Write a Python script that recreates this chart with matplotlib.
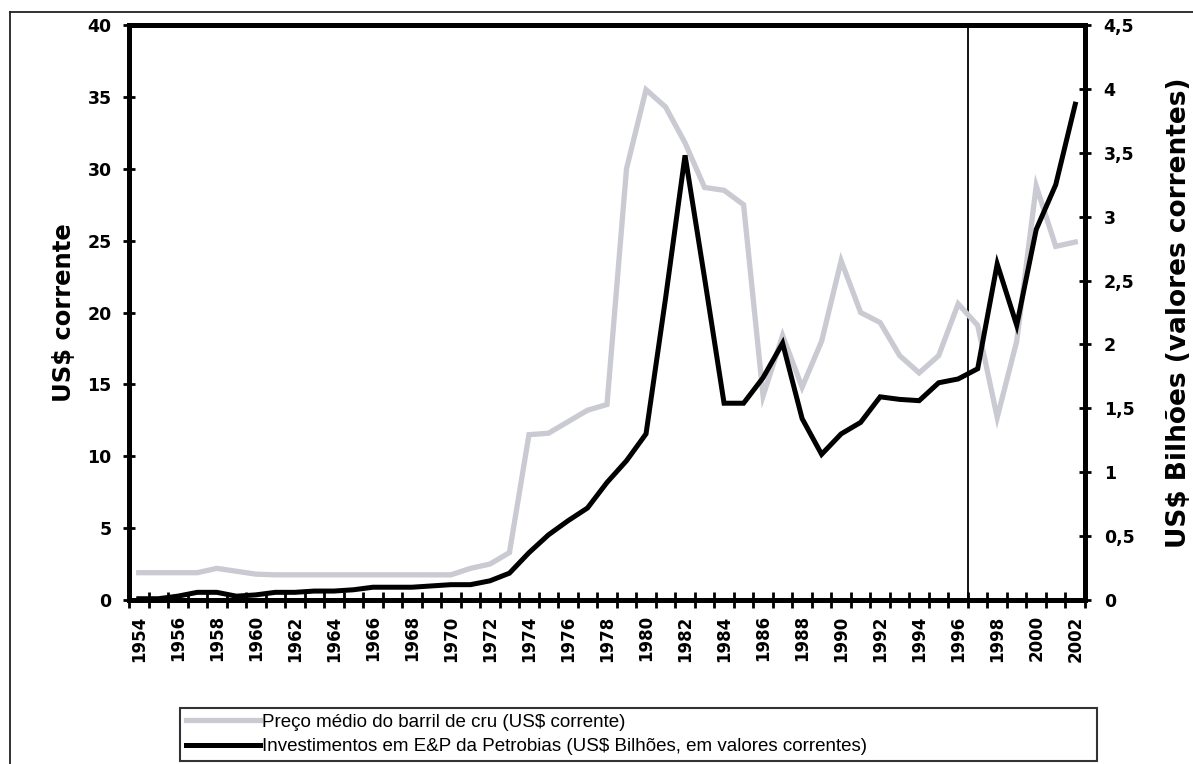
import matplotlib
matplotlib.use("Agg")
import matplotlib.pyplot as plt
from matplotlib.lines import Line2D

# Annual series, 1954-2002
years = list(range(1954, 2003))

# Average crude barrel price, current US$ (left axis)
oil_price = [1.9, 1.9, 1.9, 1.9, 2.2, 2.0, 1.8,
             1.75, 1.75, 1.75, 1.75, 1.75, 1.75, 1.75, 1.75, 1.75, 1.75,
             2.2, 2.5, 3.3, 11.5, 11.6, 12.4, 13.2, 13.6, 30.0, 35.5,
             34.3, 31.8, 28.7, 28.5, 27.5, 14.2, 18.4, 14.8, 18.0, 23.6,
             20.0, 19.3, 17.0, 15.8, 17.0, 20.6, 19.1, 12.7, 18.0, 28.8,
             24.6, 24.9]

# Petrobras E&P investment, US$ billions (right axis)
ep_invest = [0.01, 0.01, 0.03, 0.06, 0.06, 0.03, 0.04, 0.06, 0.06, 0.07,
             0.07, 0.08, 0.10, 0.10, 0.10, 0.11, 0.12, 0.12, 0.15, 0.21,
             0.37, 0.51, 0.62, 0.72, 0.92, 1.09, 1.30, 2.36, 3.48, 2.52,
             1.54, 1.54, 1.74, 2.01, 1.42, 1.14, 1.30, 1.39, 1.59, 1.57,
             1.56, 1.70, 1.73, 1.81, 2.63, 2.15, 2.90, 3.25, 3.88]

left_ticks = [0, 5, 10, 15, 20, 25, 30, 35, 40]
right_ticks = [0, 0.5, 1, 1.5, 2, 2.5, 3, 3.5, 4, 4.5]
right_tick_labels = ["0", "0,5", "1", "1,5", "2", "2,5", "3", "3,5", "4", "4,5"]
label_years = list(range(1954, 2003, 2))
reform_boundary = 1996.5

label_price = "Preço médio do barril de cru (US$ corrente)"
label_invest = "Investimentos em E&P da Petrobias (US$ Bilhões, em valores correntes)"

W, H = 1193, 764
fig = plt.figure(figsize=(W / 100, H / 100), dpi=100)
fig.patch.set_facecolor("white")

x0, x1, y_top, y_bot = 129, 1085, 25, 600
ax = fig.add_axes([x0 / W, 1 - y_bot / H, (x1 - x0) / W, (y_bot - y_top) / H])
ax2 = ax.twinx()

gray = "#c9cad2"
l1, = ax.plot(years, oil_price, color=gray, lw=3.8, solid_joinstyle="miter", zorder=2)
l2, = ax2.plot(years, ep_invest, color="black", lw=3.6, solid_joinstyle="miter", zorder=3)
ax.axvline(reform_boundary, color="black", lw=1.3, zorder=1)

# Category axis: one slot per year, tick marks on the slot boundaries
ax.set_xlim(years[0] - 0.5, years[-1] + 0.5)
ax.set_ylim(0, 40)
ax2.set_ylim(0, 4.5)

tick_font = dict(family="DejaVu Sans", weight="bold", size=12.5)
ax.set_yticks(left_ticks)
ax.set_yticklabels([str(t) for t in left_ticks], fontdict=tick_font)
ax2.set_yticks(right_ticks)
ax2.set_yticklabels(right_tick_labels, fontdict=tick_font)

boundaries = [y - 0.5 for y in years] + [years[-1] + 0.5]
ax.set_xticks(boundaries)
ax.set_xticklabels([""] * len(boundaries))
ax.set_xticks(label_years, minor=True)
ax.set_xticklabels([str(y) for y in label_years], minor=True,
                   fontdict=dict(family="DejaVu Sans", weight="bold", size=12), rotation=90)

ax.tick_params(axis="y", direction="inout", length=9, width=2, pad=8, colors="black")
ax2.tick_params(axis="y", direction="inout", length=9, width=2, pad=9, colors="black")
ax.tick_params(axis="x", which="major", direction="inout", length=12, width=2, colors="black")
ax.tick_params(axis="x", which="minor", length=0, pad=11, colors="black")

for a in (ax, ax2):
    for s in a.spines.values():
        s.set_linewidth(3.5)
        s.set_color("black")

ax.set_ylabel("US$ corrente", family="DejaVu Sans", weight="bold", size=17.5, labelpad=8)
ax2.set_ylabel("US$ Bilhões (valores correntes)", family="DejaVu Sans", weight="bold",
               size=19, labelpad=23, rotation=90)

# Outer chart frame (left and top edges)
fig.add_artist(Line2D([10 / W, 10 / W], [0, 1 - 12 / H], transform=fig.transFigure,
                      color="#222222", lw=1.3))
fig.add_artist(Line2D([10 / W, 1], [1 - 12 / H, 1 - 12 / H], transform=fig.transFigure,
                      color="#222222", lw=1.3))

leg_x0, leg_x1, leg_top = 180, 1097, 708
leg = fig.legend([l1, l2], [label_price, label_invest],
                 loc="upper left",
                 bbox_to_anchor=(leg_x0 / W, 1 - leg_top / H, (leg_x1 - leg_x0) / W, 0.0),
                 mode="expand", frameon=True, fancybox=False, edgecolor="black",
                 borderpad=0.3, handlelength=3.95, handletextpad=0.1, labelspacing=0.4,
                 borderaxespad=0,
                 prop=dict(family=["Liberation Sans Narrow", "Liberation Sans"], size=13.5))
leg.get_frame().set_linewidth(1.5)

fig.savefig("out.png", dpi=100, facecolor="white")
